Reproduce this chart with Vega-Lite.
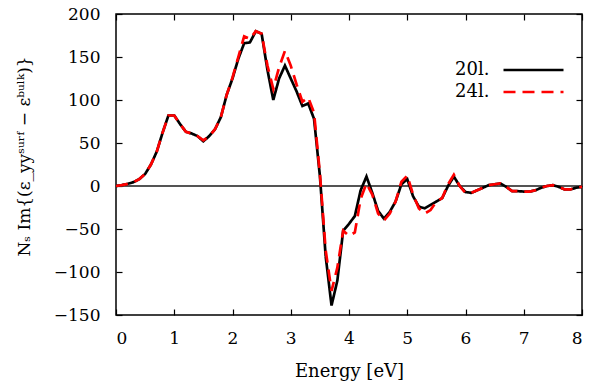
{
  "$schema": "https://vega.github.io/schema/vega-lite/v6.json",
  "width": 466,
  "height": 301,
  "autosize": "none",
  "padding": {"left": 116, "top": 14, "right": 25, "bottom": 72},
  "background": "white",
  "config": {
    "font": "DejaVu Serif",
    "view": {"stroke": "black", "strokeWidth": 1.5},
    "axis": {"grid": false, "domain": false, "ticks": true, "zindex": 1, "tickColor": "black", "tickSize": -6, "tickWidth": 1.2, "labelFont": "DejaVu Serif", "labelFontSize": 17, "labelColor": "black", "titleFont": "DejaVu Serif", "titleFontSize": 18, "titleFontWeight": "normal", "titleColor": "black"}
  },
  "datasets": {
    "curves": [
      {"E":0.0,"v":0,"s":"20l."},{"E":0.1,"v":1,"s":"20l."},{"E":0.2,"v":2.5,"s":"20l."},{"E":0.3,"v":4.5,"s":"20l."},{"E":0.4,"v":8,"s":"20l."},{"E":0.5,"v":14,"s":"20l."},{"E":0.6,"v":25,"s":"20l."},{"E":0.7,"v":40,"s":"20l."},{"E":0.8,"v":62,"s":"20l."},{"E":0.9,"v":82,"s":"20l."},
      {"E":1.0,"v":82,"s":"20l."},{"E":1.1,"v":72,"s":"20l."},{"E":1.2,"v":63,"s":"20l."},{"E":1.3,"v":61,"s":"20l."},{"E":1.4,"v":58,"s":"20l."},{"E":1.5,"v":52,"s":"20l."},{"E":1.6,"v":58,"s":"20l."},{"E":1.7,"v":66,"s":"20l."},{"E":1.8,"v":80,"s":"20l."},{"E":1.9,"v":106,"s":"20l."},
      {"E":2.0,"v":125,"s":"20l."},{"E":2.1,"v":148,"s":"20l."},{"E":2.2,"v":166,"s":"20l."},{"E":2.3,"v":167,"s":"20l."},{"E":2.4,"v":180,"s":"20l."},{"E":2.5,"v":177,"s":"20l."},{"E":2.6,"v":135,"s":"20l."},{"E":2.7,"v":100,"s":"20l."},{"E":2.8,"v":125,"s":"20l."},{"E":2.9,"v":140,"s":"20l."},
      {"E":3.0,"v":125,"s":"20l."},{"E":3.1,"v":110,"s":"20l."},{"E":3.2,"v":93,"s":"20l."},{"E":3.3,"v":96,"s":"20l."},{"E":3.4,"v":78,"s":"20l."},{"E":3.5,"v":12,"s":"20l."},{"E":3.6,"v":-82,"s":"20l."},{"E":3.7,"v":-139,"s":"20l."},{"E":3.8,"v":-110,"s":"20l."},{"E":3.9,"v":-52,"s":"20l."},
      {"E":4.0,"v":-44,"s":"20l."},{"E":4.1,"v":-35,"s":"20l."},{"E":4.2,"v":-5,"s":"20l."},{"E":4.3,"v":11,"s":"20l."},{"E":4.4,"v":-8,"s":"20l."},{"E":4.5,"v":-29,"s":"20l."},{"E":4.6,"v":-38,"s":"20l."},{"E":4.7,"v":-30,"s":"20l."},{"E":4.8,"v":-18,"s":"20l."},{"E":4.9,"v":2,"s":"20l."},
      {"E":5.0,"v":8,"s":"20l."},{"E":5.1,"v":-12,"s":"20l."},{"E":5.2,"v":-24,"s":"20l."},{"E":5.3,"v":-26,"s":"20l."},{"E":5.4,"v":-22,"s":"20l."},{"E":5.5,"v":-18,"s":"20l."},{"E":5.6,"v":-14,"s":"20l."},{"E":5.7,"v":0,"s":"20l."},{"E":5.8,"v":11,"s":"20l."},{"E":5.9,"v":0,"s":"20l."},
      {"E":6.0,"v":-7,"s":"20l."},{"E":6.1,"v":-8,"s":"20l."},{"E":6.2,"v":-5,"s":"20l."},{"E":6.3,"v":-2,"s":"20l."},{"E":6.4,"v":1,"s":"20l."},{"E":6.5,"v":2,"s":"20l."},{"E":6.6,"v":3,"s":"20l."},{"E":6.7,"v":-1,"s":"20l."},{"E":6.8,"v":-6,"s":"20l."},{"E":6.9,"v":-6,"s":"20l."},
      {"E":7.0,"v":-6.5,"s":"20l."},{"E":7.1,"v":-6.5,"s":"20l."},{"E":7.2,"v":-5,"s":"20l."},{"E":7.3,"v":-2,"s":"20l."},{"E":7.4,"v":0,"s":"20l."},{"E":7.5,"v":1,"s":"20l."},{"E":7.6,"v":-1,"s":"20l."},{"E":7.7,"v":-4,"s":"20l."},{"E":7.8,"v":-4,"s":"20l."},{"E":7.9,"v":-2,"s":"20l."},{"E":8.0,"v":-1,"s":"20l."},
      {"E":0.0,"v":0,"s":"24l."},{"E":0.1,"v":1,"s":"24l."},{"E":0.2,"v":2.5,"s":"24l."},{"E":0.3,"v":4.5,"s":"24l."},{"E":0.4,"v":8,"s":"24l."},{"E":0.5,"v":14,"s":"24l."},{"E":0.6,"v":25,"s":"24l."},{"E":0.7,"v":40,"s":"24l."},{"E":0.8,"v":62,"s":"24l."},{"E":0.9,"v":82,"s":"24l."},
      {"E":1.0,"v":82,"s":"24l."},{"E":1.1,"v":72,"s":"24l."},{"E":1.2,"v":63,"s":"24l."},{"E":1.3,"v":61,"s":"24l."},{"E":1.4,"v":58,"s":"24l."},{"E":1.5,"v":53,"s":"24l."},{"E":1.6,"v":58,"s":"24l."},{"E":1.7,"v":66,"s":"24l."},{"E":1.8,"v":80,"s":"24l."},{"E":1.9,"v":106,"s":"24l."},
      {"E":2.0,"v":126,"s":"24l."},{"E":2.1,"v":150,"s":"24l."},{"E":2.2,"v":174,"s":"24l."},{"E":2.3,"v":171,"s":"24l."},{"E":2.4,"v":180,"s":"24l."},{"E":2.5,"v":177,"s":"24l."},{"E":2.6,"v":140,"s":"24l."},{"E":2.7,"v":113,"s":"24l."},{"E":2.8,"v":138,"s":"24l."},{"E":2.9,"v":157,"s":"24l."},
      {"E":3.0,"v":140,"s":"24l."},{"E":3.1,"v":118,"s":"24l."},{"E":3.2,"v":98,"s":"24l."},{"E":3.3,"v":103,"s":"24l."},{"E":3.4,"v":85,"s":"24l."},{"E":3.5,"v":15,"s":"24l."},{"E":3.6,"v":-75,"s":"24l."},{"E":3.7,"v":-122,"s":"24l."},{"E":3.8,"v":-95,"s":"24l."},{"E":3.9,"v":-52,"s":"24l."},
      {"E":4.0,"v":-58,"s":"24l."},{"E":4.1,"v":-54,"s":"24l."},{"E":4.2,"v":-15,"s":"24l."},{"E":4.3,"v":3,"s":"24l."},{"E":4.4,"v":-10,"s":"24l."},{"E":4.5,"v":-32,"s":"24l."},{"E":4.6,"v":-40,"s":"24l."},{"E":4.7,"v":-32,"s":"24l."},{"E":4.8,"v":-18,"s":"24l."},{"E":4.9,"v":5,"s":"24l."},
      {"E":5.0,"v":12,"s":"24l."},{"E":5.1,"v":-10,"s":"24l."},{"E":5.2,"v":-26,"s":"24l."},{"E":5.3,"v":-32,"s":"24l."},{"E":5.4,"v":-28,"s":"24l."},{"E":5.5,"v":-18,"s":"24l."},{"E":5.6,"v":-14,"s":"24l."},{"E":5.7,"v":2,"s":"24l."},{"E":5.8,"v":13,"s":"24l."},{"E":5.9,"v":0,"s":"24l."},
      {"E":6.0,"v":-8,"s":"24l."},{"E":6.1,"v":-8,"s":"24l."},{"E":6.2,"v":-5,"s":"24l."},{"E":6.3,"v":-2,"s":"24l."},{"E":6.4,"v":1,"s":"24l."},{"E":6.5,"v":2,"s":"24l."},{"E":6.6,"v":3,"s":"24l."},{"E":6.7,"v":-1,"s":"24l."},{"E":6.8,"v":-6,"s":"24l."},{"E":6.9,"v":-6,"s":"24l."},
      {"E":7.0,"v":-6.5,"s":"24l."},{"E":7.1,"v":-6.5,"s":"24l."},{"E":7.2,"v":-5,"s":"24l."},{"E":7.3,"v":-2,"s":"24l."},{"E":7.4,"v":0,"s":"24l."},{"E":7.5,"v":1,"s":"24l."},{"E":7.6,"v":-1,"s":"24l."},{"E":7.7,"v":-4,"s":"24l."},{"E":7.8,"v":-4,"s":"24l."},{"E":7.9,"v":-2,"s":"24l."},{"E":8.0,"v":-1,"s":"24l."}
    ]
  },
  "data": {"name": "curves"},
  "layer": [
    {
      "mark": {"type": "rule", "color": "#555555", "strokeWidth": 1},
      "encoding": {"y": {"datum": 0, "type": "quantitative", "axis": null}}
    },
    {
      "mark": {"type": "line", "strokeWidth": 2.7, "clip": true},
      "encoding": {
        "x": {"field": "E", "type": "quantitative", "scale": {"domain": [0, 8], "nice": false}, "axis": {"orient": "bottom", "title": "Energy [eV]", "values": [0,1,2,3,4,5,6,7,8], "labelPadding": 21, "titlePadding": 16}},
        "y": {"field": "v", "type": "quantitative", "scale": {"domain": [-150, 200], "nice": false}, "axis": {"orient": "left", "title": "Nₛ Im{(ε_yyˢᵘʳᶠ − εᵇᵘˡᵏ)}", "titleFontSize": 17, "titleY": 142, "values": [-150,-100,-50,0,50,100,150,200], "labelPadding": 22, "titlePadding": 20}},
        "color": {"field": "s", "type": "nominal", "scale": {"domain": ["20l.", "24l."], "range": ["black", "#ff0000"]},
          "legend": {"title": null, "orient": "none", "legendX": 408.5, "legendY": 47, "symbolType": "M-6,0H6", "symbolSize": 100, "symbolStrokeWidth": 2.7, "symbolFillColor": "transparent", "labelAlign": "right", "labelOffset": -53, "labelFontSize": 18, "labelFont": "DejaVu Serif", "labelColor": "black", "rowPadding": 4, "labelLimit": 200}},
        "strokeDash": {"field": "s", "type": "nominal", "scale": {"domain": ["20l.", "24l."], "range": [[1, 0], [12, 7]]}},
        "order": {"field": "E", "type": "quantitative"}
      }
    },
    {
      "mark": {"type": "line", "opacity": 0},
      "encoding": {
        "x": {"field": "E", "type": "quantitative", "axis": {"orient": "top", "labels": false, "title": null, "values": [0,1,2,3,4,5,6,7,8]}},
        "y": {"field": "v", "type": "quantitative", "axis": {"orient": "right", "labels": false, "title": null, "values": [-150,-100,-50,0,50,100,150,200]}},
        "detail": {"field": "s"}
      }
    }
  ],
  "resolve": {"axis": {"x": "independent", "y": "independent"}}
}
